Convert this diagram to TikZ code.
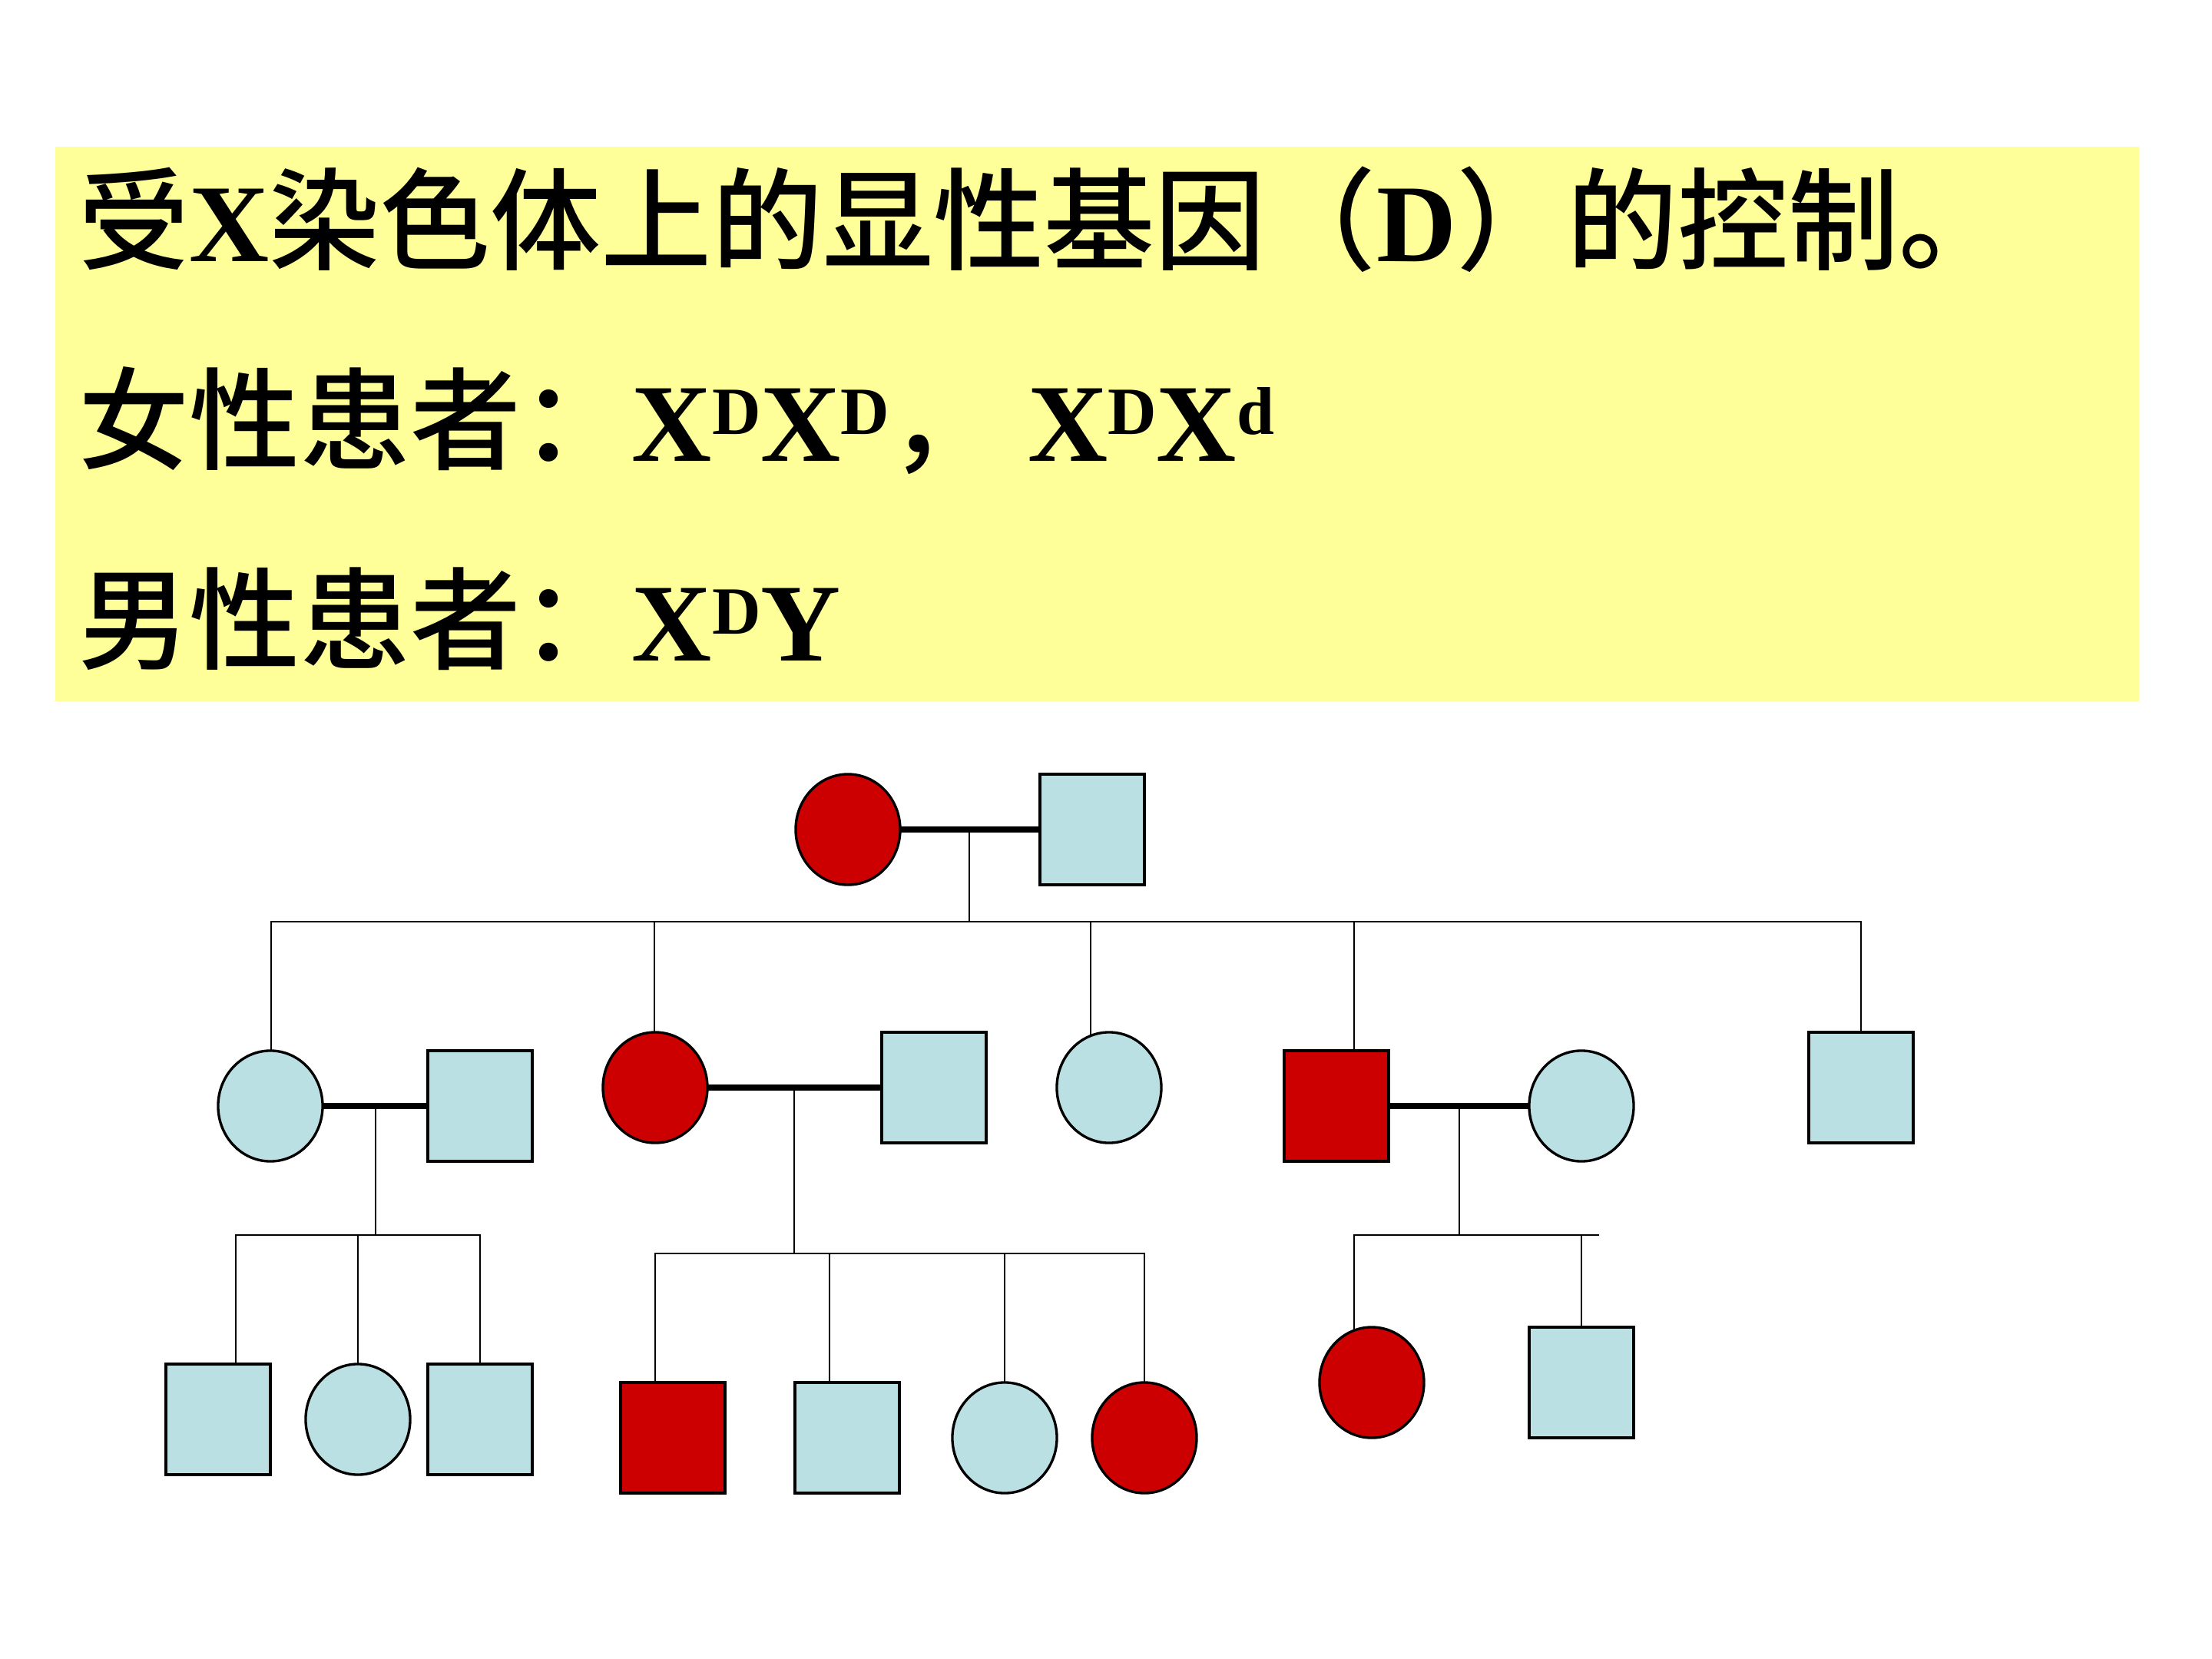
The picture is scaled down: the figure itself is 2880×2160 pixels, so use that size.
\documentclass[tikz,border=0pt]{standalone}
\usepackage{fontspec}
\setmainfont{Liberation Serif}
\newfontfamily\cjkfont{Noto Sans CJK SC}[UprightFont=* Medium]
\usetikzlibrary{shapes.geometric}
\pgfdeclarelayer{bottom}
\pgfdeclarelayer{links}
\pgfsetlayers{bottom,links,main}
\definecolor{dred}{HTML}{CC0000}
\definecolor{lblue}{HTML}{BBE0E3}
\definecolor{ylw}{HTML}{FFFF99}
\newcommand\zh[1]{{\cjkfont\mdseries #1}}
\newcommand\sups[1]{\raisebox{0.24em}{\fontsize{25pt}{25pt}\selectfont #1}}
\tikzset{
  panel/.style={fill=ylw, anchor=north west, minimum width=27.11cm, minimum height=7.22cm, inner sep=0pt, outer sep=0pt},
  txt/.style={anchor=base west, inner sep=0pt, outer sep=0pt, font=\fontsize{41pt}{49pt}\selectfont\bfseries},
  fem/.style={ellipse, draw=black, line width=0.95pt, minimum width=1.36cm, minimum height=1.44cm, inner sep=0pt},
  mal/.style={rectangle, draw=black, line width=0.95pt, minimum width=1.36cm, minimum height=1.44cm, inner sep=0pt},
  aff/.style={fill=dred},
  unaff/.style={fill=lblue},
  mate/.style={line width=2.4pt},
  kin/.style={line width=0.8pt, line cap=rect}
}
\begin{document}
\begin{tikzpicture}[x=0.01cm,y=-0.01cm]
\begin{pgfonlayer}{bottom}
\fill[white] (0,0) rectangle (2880,2160);
\end{pgfonlayer}
\useasboundingbox (0,0) rectangle (2880,2160);
% text panel
\node[panel] (box) at (72,191) {};
\node[txt] (l1) at (102,340) {\zh{受}X\zh{染色体上的显性基因（}D\zh{）的控制。}};
\node[txt] (l2) at (102,600) {\zh{女性患者：}X\sups{D}X\sups{D}\zh{，} X\sups{D}X\sups{d}};
\node[txt] (l3) at (102,860) {\zh{男性患者：}X\sups{D}Y};
% generation I
\node[fem,aff]   (i1) at (1104,1080) {};
\node[mal,unaff] (i2) at (1422,1080) {};
% generation II
\node[fem,unaff] (ii1) at (352,1440) {};
\node[mal,unaff] (ii2) at (625,1440) {};
\node[fem,aff]   (ii3) at (853,1416) {};
\node[mal,unaff] (ii4) at (1216,1416) {};
\node[fem,unaff] (ii5) at (1444,1416) {};
\node[mal,aff]   (ii6) at (1740,1440) {};
\node[fem,unaff] (ii7) at (2059,1440) {};
\node[mal,unaff] (ii8) at (2423,1416) {};
% generation III
\node[mal,unaff] (iii1) at (284,1848) {};
\node[fem,unaff] (iii2) at (466,1848) {};
\node[mal,unaff] (iii3) at (625,1848) {};
\node[mal,aff]   (iii4) at (876,1872) {};
\node[mal,unaff] (iii5) at (1103,1872) {};
\node[fem,unaff] (iii6) at (1308,1872) {};
\node[fem,aff]   (iii7) at (1490,1872) {};
\node[fem,aff]   (iii8) at (1786,1800) {};
\node[mal,unaff] (iii9) at (2059,1800) {};
% coordinates
\coordinate (m1) at (1262,1080);
\coordinate (s1) at (1262,1200);
\coordinate (s1a) at (353,1200);
\coordinate (s1b) at (852,1200);
\coordinate (s1c) at (1420,1200);
\coordinate (s1d) at (1763,1200);
\coordinate (s1e) at (2423,1200);
\coordinate (m2) at (489,1440);
\coordinate (s2) at (489,1608);
\coordinate (s2a) at (307,1608);
\coordinate (s2b) at (466,1608);
\coordinate (s2c) at (625,1608);
\coordinate (m3) at (1034,1416);
\coordinate (s3) at (1034,1632);
\coordinate (s3a) at (853,1632);
\coordinate (s3b) at (1080,1632);
\coordinate (s3c) at (1308,1632);
\coordinate (s3d) at (1490,1632);
\coordinate (m4) at (1900,1440);
\coordinate (s4) at (1900,1608);
\coordinate (s4a) at (1763,1608);
\coordinate (s4b) at (2059,1608);
\coordinate (s4e) at (2081,1608);
\begin{pgfonlayer}{links}
\draw[mate] (i1.center) -- (i2.center);
\draw[mate] (ii1.center) -- (ii2.center);
\draw[mate] (ii3.center) -- (ii4.center);
\draw[mate] (ii6.center) -- (ii7.center);
\draw[kin] (m1) -- (s1);
\draw[kin] (s1a) -- (s1e);
\foreach \c/\n in {s1a/ii1,s1b/ii3,s1c/ii5,s1d/ii6,s1e/ii8}
  \draw[kin] (\c) -- (\c |- \n.center);
\draw[kin] (m2) -- (s2);
\draw[kin] (s2a) -- (s2c);
\foreach \c/\n in {s2a/iii1,s2b/iii2,s2c/iii3}
  \draw[kin] (\c) -- (\c |- \n.center);
\draw[kin] (m3) -- (s3);
\draw[kin] (s3a) -- (s3d);
\foreach \c/\n in {s3a/iii4,s3b/iii5,s3c/iii6,s3d/iii7}
  \draw[kin] (\c) -- (\c |- \n.center);
\draw[kin] (m4) -- (s4);
\draw[kin] (s4a) -- (s4e);
\foreach \c/\n in {s4a/iii8,s4b/iii9}
  \draw[kin] (\c) -- (\c |- \n.center);
\end{pgfonlayer}
\end{tikzpicture}
\end{document}
